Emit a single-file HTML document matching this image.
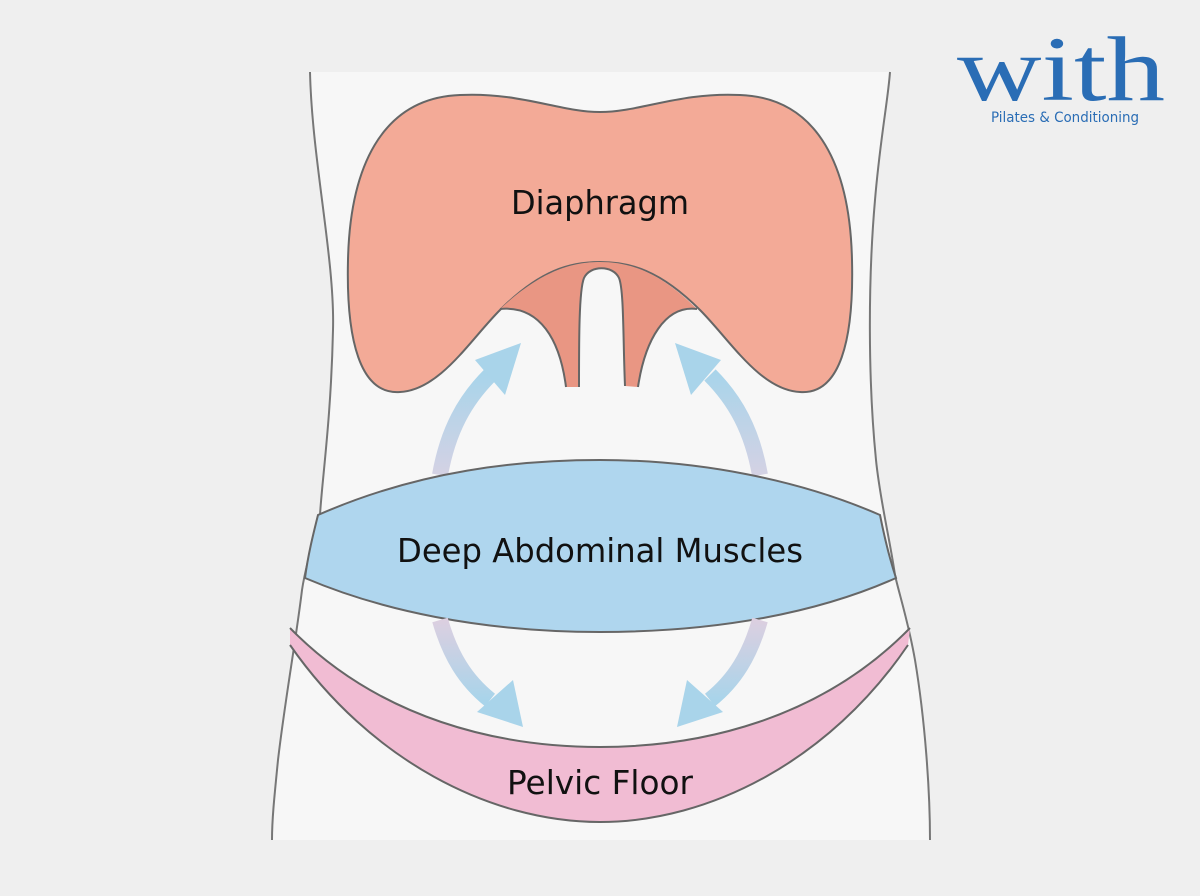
<!DOCTYPE html>
<html><head><meta charset="utf-8"><style>
html,body{margin:0;padding:0;background:#efefef;}
svg{display:block}
</style></head><body>
<svg width="1200" height="896" viewBox="0 0 1200 896" xmlns="http://www.w3.org/2000/svg">
<defs>
<linearGradient id="gu" x1="0" y1="1" x2="0" y2="0">
<stop offset="0" stop-color="#d4d2e4"/><stop offset="1" stop-color="#a9d4ea"/></linearGradient>
<linearGradient id="gd" x1="0" y1="0" x2="0" y2="1">
<stop offset="0" stop-color="#dccfe0"/><stop offset="1" stop-color="#a9d4ea"/></linearGradient>
</defs>
<rect width="1200" height="896" fill="#efefef"/>
<path d="M310,72 C312,160 335,260 333,330 C331,420 322,480 320,515 C312,545 305,570 302,590 C296,640 285,700 278,760 C274,800 272,820 272,840 L930,840 C930,790 925,720 915,660 C908,620 898,590 895,575 C890,540 880,500 876,460 C868,380 868,280 875,200 C880,140 888,100 890,72 Z" fill="#f7f7f7"/>
<path d="M310,72 C312,160 335,260 333,330 C331,420 322,480 320,515 C312,545 305,570 302,590 C296,640 285,700 278,760 C274,800 272,820 272,840" fill="none" stroke="#777" stroke-width="2"/>
<path d="M890,72 C888,100 880,140 875,200 C868,280 868,380 876,460 C880,500 890,540 895,575 C898,590 908,620 915,660 C925,720 930,790 930,840" fill="none" stroke="#777" stroke-width="2"/>
<path d="M600,112 C560,112 520,92 460,95 C380,98 350,170 348,260 C346,340 360,395 400,392 C440,390 470,340 500,310 C540,270 570,262 600,262 C630,262 660,270 700,310 C730,340 760,390 800,392 C840,395 854,340 852,260 C850,170 820,98 740,95 C680,92 640,112 600,112 Z" fill="#f3aa97" stroke="#666" stroke-width="2"/>
<path d="M500,309 C540,272 570,262 600,262 C630,262 660,272 697,309 C665,305 645,340 638,387 L625,386 C623,340 624,290 619,278 C613,265 590,265 584,278 C579,290 579,340 579,387 L566,387 C560,340 540,305 500,309 Z" fill="#e99683"/>
<path d="M500,309 C540,305 560,340 566,387" fill="none" stroke="#666" stroke-width="2"/>
<path d="M697,309 C665,305 645,340 638,387" fill="none" stroke="#666" stroke-width="2"/>
<path d="M579,387 C579,340 579,290 584,278 C590,265 613,265 619,278 C624,290 623,340 625,386" fill="none" stroke="#666" stroke-width="2"/>
<path d="M440,475 C448,430 465,400 490,375" fill="none" stroke="url(#gu)" stroke-width="16"/>
<polygon points="521,343 475,360 505,395" fill="#a9d4ea"/>
<path d="M760,475 C752,430 735,400 710,375" fill="none" stroke="url(#gu)" stroke-width="16"/>
<polygon points="675,343 721,360 691,395" fill="#a9d4ea"/>
<path d="M318,515 C420,470 520,460 600,460 C700,460 800,480 880,515 C885,540 890,560 896,578 C820,612 720,632 600,632 C480,632 380,610 305,578 C308,555 313,535 318,515 Z" fill="#afd6ee" stroke="#666" stroke-width="2"/>
<path d="M440,620 C450,655 465,680 490,700" fill="none" stroke="url(#gd)" stroke-width="16"/>
<polygon points="523,727 513,680 477,712" fill="#a9d4ea"/>
<path d="M760,620 C750,655 735,680 710,700" fill="none" stroke="url(#gd)" stroke-width="16"/>
<polygon points="677,727 687,680 723,712" fill="#a9d4ea"/>
<path d="M290,628 C380,720 500,747 600,747 C700,747 820,720 910,628 L908,645 C830,760 710,822 600,822 C490,822 370,760 290,645 Z" fill="#f1bcd3"/>
<path d="M290,628 C380,720 500,747 600,747 C700,747 820,720 910,628" fill="none" stroke="#666" stroke-width="2"/>
<path d="M290,645 C370,760 490,822 600,822 C710,822 830,760 908,645" fill="none" stroke="#666" stroke-width="2"/>
<g font-family="'DejaVu Sans','Liberation Sans',sans-serif" font-size="33" fill="#111" text-anchor="middle">
<text x="600" y="214" textLength="178" lengthAdjust="spacingAndGlyphs">Diaphragm</text>
<text x="600" y="562" textLength="406" lengthAdjust="spacingAndGlyphs">Deep Abdominal Muscles</text>
<text x="600" y="794" textLength="186" lengthAdjust="spacingAndGlyphs">Pelvic Floor</text>
</g>
<text x="1061" y="100" font-family="'Liberation Serif',serif" font-size="92" fill="#2a6db5" text-anchor="middle" textLength="208" lengthAdjust="spacingAndGlyphs">with</text>
<text x="1065" y="122" font-family="'DejaVu Sans','Liberation Sans',sans-serif" font-size="14" fill="#2a6db5" text-anchor="middle" textLength="148" lengthAdjust="spacingAndGlyphs">Pilates &amp; Conditioning</text>
</svg>
</body></html>
